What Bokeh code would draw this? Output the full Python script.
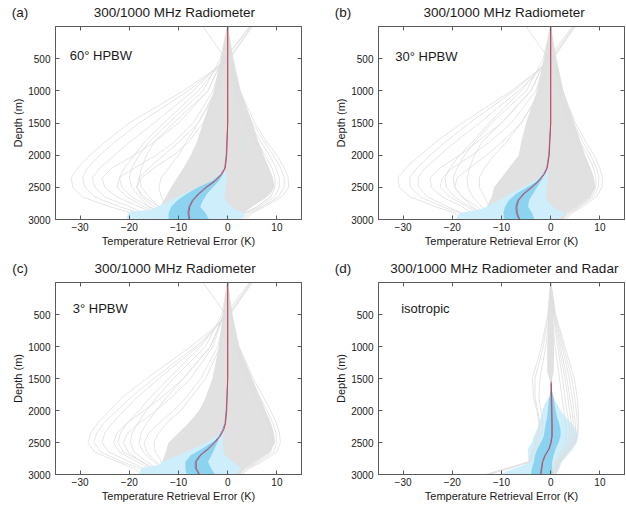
from bokeh.plotting import figure
from bokeh.layouts import row, column
from bokeh.models import Range1d, FixedTicker, LinearAxis, Label, CustomJSTickFormatter
from bokeh.embed import file_html
from bokeh.resources import INLINE

FONT = "Liberation Sans"
X_TICKS = [-30, -20, -10, 0, 10]
Y_TICKS = [500, 1000, 1500, 2000, 2500, 3000]
X_LABEL = "Temperature Retrieval Error (K)"
Y_LABEL = "Depth (m)"

# shared depth grid for ensemble members (m)
D = [0, 500, 1000, 1500, 1800, 2000, 2200, 2350, 2500, 2650, 2800, 2900, 3000]
# depth grid for mean / median profiles
DM = [0, 500, 1000, 1500, 2000, 2200, 2300, 2400, 2500, 2600, 2700, 2800, 2900, 3000]

# ---------------- panel (a) 60 deg HPBW ----------------
FAN_L_A = [0, -1.4, -2.8, -5.0, -6.3, -7.5, -9.0, -10.3, -11.5, -12.6, -13.8, -13.5, -12.5]
FAN_R_A = [0, 1.2, 2.6, 5.0, 6.3, 7.3, 8.4, 9.2, 9.5, 8.0, 5.0, 3.3, 2.0]
MEMB_A = [
    [5.0, 0.5, -9, -20, -25, -28, -30.5, -31.8, -31.5, -29.5, -24, -19.5, -17],
    [4.8, 0.2, -8, -18, -23, -26, -28.5, -29.5, -29, -27, -22, -18, -16],
    [4.6, -0.5, -7, -15, -20, -23, -26, -27.5, -27, -25, -20, -17, -15],
    [0, -1, -4, -10, -15, -19, -23.5, -25.5, -25, -22.5, -18, -15, -14],
    [0, -1, -3, -7, -11, -14.5, -19, -22, -22.5, -20.5, -17, -14, -13],
    [0, -1.5, -5, -12, -16, -18, -19.5, -20, -19.5, -18, -16, -13.5, -12],
    [0, -1, -4, -11, -15, -16.5, -17.5, -18, -17.5, -16, -14, -12, -11],
    [0, -0.5, -2, -5, -8, -11, -15, -17.5, -18.5, -17.5, -15, -13, -12],
    [0, -0.5, -2, -6, -10, -13, -16, -18, -18.5, -17, -14, -12, -11],
    [4.4, -0.5, -6, -13, -17, -19, -21, -22, -21.5, -19.5, -16, -13, -12],
    [0, -0.8, -2.5, -6, -8.5, -10, -12, -13.5, -14, -13.5, -12.5, -11.5, -11],
    [0, 0.8, 2.5, 5.5, 8, 10, 11.5, 12.3, 12.4, 11, 7.5, 5, 3.5],
    [0, 0.7, 2.2, 5, 7.5, 9.3, 10.8, 11.5, 11.5, 10.3, 7, 4.5, 3],
    [0, 0.6, 2, 4.5, 6.8, 8.5, 9.8, 10.5, 10.5, 9.5, 6.5, 4, 2.5],
    [-5, -0.5, 1.5, 4, 6, 7.6, 9, 9.6, 9.6, 8.8, 6, 3.5, 2],
    [0, 0.4, 1.5, 3.5, 5.3, 6.8, 8.2, 9, 9.2, 8.5, 6, 3.5, 2],
]
LB_D_A = [2250, 2350, 2450, 2550, 2650, 2750, 2850, 2880, 2950, 3000]
LB_L_A = [-0.5, -2.0, -4.5, -7.5, -10.2, -13.0, -15.5, -20.0, -20.5, -20.5]
LB_R_A = [-0.3, -0.2, -0.3, -0.5, -0.7, 0.0, 1.6, 3.0, 3.5, 2.5]
DB_D_A = [2300, 2400, 2500, 2600, 2700, 2800, 2900, 3000]
DB_L_A = [-1.5, -3.2, -6.0, -8.3, -10.2, -11.5, -12.0, -12.0]
DB_R_A = [-1.0, -1.8, -3.0, -4.2, -5.0, -5.6, -4.5, -3.8]
MEAN_A = [0, 0, 0, 0, -0.2, -0.5, -1.2, -2.5, -4.3, -5.8, -7.0, -7.7, -7.9, -7.7]
MED_A = [0, 0, 0, 0, -0.3, -0.6, -1.4, -2.7, -4.5, -6.0, -7.2, -7.9, -8.1, -7.9]

# ---------------- panel (b) 30 deg HPBW ----------------
FAN_L_B = [0, -1.4, -2.8, -5.0, -6.0, -6.5, -8.5, -10.0, -11.5, -12.0, -13.0, -13.0, -12.0]
FAN_R_B = [0, 1.2, 2.6, 4.8, 6.1, 7.0, 8.1, 8.8, 9.1, 8.0, 5.3, 3.3, 2.3]
MEMB_B = [
    [5.0, 0.5, -8, -18, -23.5, -26.5, -29.5, -31, -30.8, -28.5, -23.5, -19.5, -18],
    [4.8, 0.3, -7.5, -16.5, -21.5, -24.5, -27.2, -28.7, -28.5, -26.5, -22, -18.5, -17],
    [4.6, 0, -6.5, -14.5, -19.5, -22.5, -25.5, -27, -26.8, -25, -21, -18, -16.5],
    [0, -1, -4, -10, -15, -18.5, -22.5, -24.5, -24.3, -22, -18, -16, -15],
    [0, -1, -3, -8, -12.5, -16, -20, -22, -22.5, -20.5, -17, -15, -14],
    [0, -1.5, -5, -12, -15.5, -17.5, -19, -19.8, -19.5, -18, -16, -14, -13],
    [0, -1, -4, -10, -14, -15.5, -16.5, -17, -16.8, -15.8, -14, -12.5, -12],
    [0, -0.5, -2, -6, -10, -13, -16.5, -19, -19.5, -18, -15, -13.5, -12.5],
    [0, -0.5, -2, -6, -9, -11.5, -13.5, -14.5, -14.5, -13.5, -12.5, -11.5, -11],
    [4.4, -0.5, -6, -12.5, -16, -18.5, -20.5, -21.5, -21.2, -19.5, -16.5, -14, -13],
    [0, 0.8, 2.4, 5, 7.2, 8.8, 10, 10.5, 10.4, 9.3, 6.5, 4.3, 3],
    [0, 0.7, 2.1, 4.6, 6.6, 8.1, 9.3, 9.8, 9.7, 8.7, 6.0, 4.0, 2.7],
    [-5, -0.4, 1.5, 4.0, 6.0, 7.5, 8.7, 9.2, 9.2, 8.3, 5.7, 3.6, 2.4],
    [0, 0.5, 1.6, 3.5, 5.2, 6.6, 7.9, 8.6, 8.8, 8.0, 5.5, 3.4, 2.2],
]
LB_D_B = [2200, 2300, 2400, 2500, 2600, 2700, 2800, 2850, 2900, 3000]
LB_L_B = [-0.8, -1.5, -3.3, -5.8, -8.3, -10.5, -13.0, -14.6, -18.5, -19.3]
LB_R_B = [-0.5, -0.5, -0.6, -0.8, -1.0, -0.8, 0.5, 1.5, 3.0, 1.6]
DB_D_B = [2350, 2400, 2500, 2600, 2700, 2800, 2900, 3000]
DB_L_B = [-1.8, -2.6, -4.8, -7.0, -8.5, -9.3, -9.6, -9.5]
DB_R_B = [-1.5, -2.0, -2.8, -3.6, -4.4, -4.6, -3.8, -3.3]
MEAN_B = [0, 0, 0, 0, -0.3, -0.7, -1.3, -2.4, -3.8, -5.4, -6.5, -6.9, -6.8, -6.3]
MED_B = [0, 0, 0, 0, -0.4, -0.8, -1.5, -2.6, -4.0, -5.6, -6.7, -7.1, -7.0, -6.5]

# ---------------- panel (c) 3 deg HPBW ----------------
FAN_L_C = [0, -1.0, -1.8, -3.1, -4.5, -5.8, -8.0, -10.0, -12.0, -12.6, -13.3, -13.0, -12.5]
FAN_R_C = [0, 1.0, 2.3, 5.0, 6.6, 7.7, 8.8, 9.4, 9.7, 8.6, 5.5, 3.5, 2.3]
MEMB_C = [
    [5.0, 0.5, -7.5, -16.5, -21.5, -24, -26.5, -27.8, -28.4, -27, -22.5, -19, -17.5],
    [4.8, 0.3, -6.5, -15, -19.8, -22.5, -25.2, -26.6, -27.2, -25.8, -21.5, -18, -16.5],
    [4.6, 0, -6, -14, -18.5, -21, -23.5, -25, -25.5, -24.2, -20, -17, -16],
    [0, -0.8, -3.5, -9, -13.5, -17, -20.5, -22.5, -23.2, -22, -18.5, -16, -15],
    [0, -0.8, -3, -7.5, -11.5, -14.5, -18, -20.3, -21.2, -20.2, -17.5, -15.5, -14.5],
    [0, -1.2, -4.5, -11, -14.5, -16.5, -18.3, -19.4, -19.8, -19, -16.5, -14.5, -13.5],
    [0, -0.8, -3.5, -9, -12.5, -14.5, -16.5, -17.6, -18, -17.2, -15, -13.5, -12.5],
    [0, -0.5, -2, -5.5, -8.5, -11, -14, -16, -17, -16.5, -14.5, -13, -12],
    [4.4, -0.5, -5.5, -12, -15.8, -18, -20.5, -21.8, -22.3, -21.2, -17.5, -15, -14],
    [0, -0.5, -1.5, -4.5, -7.5, -9.5, -12.5, -14, -15, -14.7, -13.5, -12.5, -12],
    [0, 0.7, 2.3, 5.2, 7.3, 8.7, 9.9, 10.5, 10.7, 10.0, 7.0, 4.5, 3.0],
    [0, 0.6, 2.0, 4.6, 6.6, 8.0, 9.2, 9.8, 10.0, 9.3, 6.4, 4.1, 2.7],
    [-5, -0.4, 1.5, 4.2, 6.0, 7.3, 8.5, 9.1, 9.3, 8.7, 6.0, 3.8, 2.4],
    [0, 0.5, 1.6, 3.8, 5.5, 6.8, 8.0, 8.6, 8.9, 8.3, 5.6, 3.5, 2.2],
]
LB_D_C = [2300, 2400, 2500, 2600, 2700, 2800, 2850, 2900, 3000]
LB_L_C = [-1.0, -2.2, -4.3, -7.2, -10.0, -13.3, -14.0, -17.5, -18.0]
LB_R_C = [-0.8, -0.8, -1.0, -1.0, -0.5, 1.0, 2.0, 2.7, 1.8]
DB_D_C = [2450, 2500, 2600, 2700, 2800, 2900, 3000]
DB_L_C = [-2.2, -3.2, -5.3, -7.5, -8.6, -8.6, -8.4]
DB_R_C = [-1.8, -2.1, -2.7, -3.3, -4.0, -3.4, -2.6]
MEAN_C = [0, 0, 0, 0, -0.2, -0.45, -0.8, -1.5, -2.6, -3.9, -5.5, -6.4, -6.4, -5.7]
MED_C = [0, 0, 0, 0, -0.3, -0.55, -1.0, -1.7, -2.8, -4.1, -5.7, -6.6, -6.6, -5.9]

# ---------------- panel (d) radiometer and radar, isotropic ----------------
FAN_D_D = [0, 500, 1000, 1400, 1580]
FAN_L_D = [0, -0.5, -0.7, -0.7, 0.0]
FAN_R_D = [0, 0.5, 0.7, 0.6, 0.1]
MEMB_D = [
    [0, 1.0, 2.9, 4.8, 5.4, 5.6, 5.7, 5.6, 5.0, 3.5, 2.0, 1.5, 1.0],
    [0, 0.9, 2.6, 4.3, 4.9, 5.2, 5.4, 5.4, 4.8, 3.3, 1.8, 1.3, 0.9],
    [0, 0.8, 2.3, 3.8, 4.4, 4.7, 5.0, 5.1, 4.6, 3.1, 1.7, 1.2, 0.8],
    [0, 0.7, 2.0, 3.3, 3.9, 4.3, 4.6, 4.7, 4.3, 2.9, 1.5, 1.0, 0.7],
    [0, 0.6, 1.7, 2.9, 3.5, 3.8, 4.2, 4.3, 4.0, 2.7, 1.3, 0.9, 0.6],
    [0, 0.5, 1.4, 2.4, 2.9, 3.3, 3.7, 3.9, 3.6, 2.4, 1.1, 0.7, 0.5],
    [0, -0.5, -1.5, -3.2, -3.2, -2.6, -2.2, -2.4, -3.0, -3.5, -4.0, -8.5, -13.0],
    [0, -0.6, -1.9, -3.7, -3.5, -2.8, -2.4, -2.6, -3.2, -3.8, -4.3, -8.0, -12.5],
    [0, -0.3, -1.0, -2.2, -2.4, -2.0, -1.6, -1.8, -2.5, -3.3, -4.5, -8.8, -13.3],
    [0, 0.3, 0.9, 1.8, 2.3, 2.7, 3.0, 3.2, 3.0, 2.0, 1.0, 0.6, 0.4],
]
LB_D_D = [1800, 1900, 2000, 2100, 2200, 2300, 2400, 2500, 2600, 2700, 2800, 2850, 2900, 2950, 3000]
LB_L_D = [-0.5, -1.2, -1.7, -2.0, -2.3, -2.8, -3.4, -3.8, -4.6, -4.6, -4.5, -5.5, -7.2, -9.0, -10.0]
LB_R_D = [0.5, 1.3, 2.0, 3.0, 4.2, 5.2, 5.6, 5.3, 4.5, 3.4, 2.3, 2.0, 1.8, 1.5, 1.0]
DB_D_D = [1700, 1800, 2000, 2100, 2200, 2300, 2400, 2500, 2600, 2700, 2800, 2900, 3000]
DB_L_D = [-0.1, -0.3, -0.6, -0.7, -1.0, -1.2, -1.4, -2.0, -2.7, -3.2, -3.4, -3.8, -4.0]
DB_R_D = [0.3, 0.6, 1.0, 1.3, 1.7, 2.0, 2.0, 1.6, 1.0, 0.6, 0.3, 0.3, 0.4]
MEAN_D = [0, 0, 0, 0.1, 0.25, 0.3, 0.3, 0.3, 0.1, -0.3, -1.1, -1.6, -1.8, -2.0]
MED_D = [0, 0, 0, 0.0, 0.15, 0.2, 0.2, 0.2, 0.0, -0.4, -1.2, -1.7, -1.9, -2.1]

GRAY_FILL = "#e1e1e1"
GRAY_LINE = "#dedede"
LIGHT_BLUE = "#cdeefa"
DARK_BLUE = "#8bd3ef"
MEAN_RED = "#dc3f4c"
MED_BLUE = "#4f9ad6"
AXIS_COL = "#5a5a5a"
TEXT_COL = "#1a1a1a"

NBSP_PAD = "\u00a0" * 19
MINUS_FMT = "return (tick < 0 ? '\u2212' : '') + Math.abs(tick);"


def style_axis(ax, show_labels, standoff=4):
    ax.major_tick_in = 4
    ax.major_tick_out = 0
    ax.minor_tick_line_color = None
    ax.axis_line_color = AXIS_COL
    ax.major_tick_line_color = AXIS_COL
    if show_labels:
        ax.major_label_text_font = FONT
        ax.major_label_text_font_size = "10px"
        ax.major_label_text_color = TEXT_COL
        ax.major_label_standoff = standoff
        ax.axis_label_text_font = FONT
        ax.axis_label_text_font_size = "11px"
        ax.axis_label_text_font_style = "normal"
        ax.axis_label_text_color = TEXT_COL
    else:
        ax.formatter = CustomJSTickFormatter(code="return '';")
        ax.major_label_text_font_size = "1px"
        ax.major_label_standoff = 0


def panel(letter, title, title_pos, note, note_x, note_y, fan_d, fan_l, fan_r, members,
          lb_d, lb_l, lb_r, db_d, db_l, db_r, mean, med,
          width, height, b_right, b_top, b_bottom, gray_on_top=False):
    p = figure(width=width, height=height, output_backend="svg", toolbar_location=None,
               title=None, x_range=Range1d(-35, 15), y_range=Range1d(3000, 0),
               min_border_left=55, min_border_right=b_right,
               min_border_top=b_top, min_border_bottom=b_bottom,
               background_fill_color="white", border_fill_color="white")
    p.grid.visible = False
    p.outline_line_color = AXIS_COL

    p.xaxis.ticker = FixedTicker(ticks=X_TICKS)
    p.yaxis.ticker = FixedTicker(ticks=Y_TICKS)
    p.xaxis.formatter = CustomJSTickFormatter(code=MINUS_FMT)
    p.xaxis.axis_label = X_LABEL
    p.yaxis.axis_label = Y_LABEL
    for ax in p.xaxis:
        style_axis(ax, True, 3)
        ax.axis_label_standoff = 1
    for ax in p.yaxis:
        style_axis(ax, True, 5)
        ax.axis_label_standoff = 1
    top = LinearAxis(ticker=FixedTicker(ticks=X_TICKS))
    right = LinearAxis(ticker=FixedTicker(ticks=Y_TICKS))
    style_axis(top, False)
    style_axis(right, False)
    p.add_layout(top, "above")
    p.add_layout(right, "right")

    # panel letter and title, drawn as labels of an unticked top axis
    p.extra_x_ranges = {"head": Range1d(-0.001, 1)}
    head = LinearAxis(x_range_name="head", ticker=FixedTicker(ticks=[0, title_pos]),
                      formatter=CustomJSTickFormatter(args=dict(labels=[letter + NBSP_PAD, title]),
                                                      code="return labels[index];"),
                      axis_line_color=None, major_tick_line_color=None,
                      minor_tick_line_color=None, major_label_standoff=1,
                      major_label_text_font=FONT, major_label_text_font_size="13.5px",
                      major_label_text_color=TEXT_COL)
    p.add_layout(head, "above")

    def gray():
        p.harea(x1=fan_l, x2=fan_r, y=fan_d, fill_color=GRAY_FILL)
        p.multi_line(xs=members, ys=[D] * len(members), line_color=GRAY_LINE, line_width=0.8)

    if not gray_on_top:
        gray()
    p.harea(x1=lb_l, x2=lb_r, y=lb_d, fill_color=LIGHT_BLUE)
    p.harea(x1=db_l, x2=db_r, y=db_d, fill_color=DARK_BLUE)
    p.line(x=med, y=DM, line_color=MED_BLUE, line_width=1)
    p.line(x=mean, y=DM, line_color=MEAN_RED, line_width=1)
    if gray_on_top:
        gray()

    p.add_layout(Label(x=note_x, y=note_y, text=note, text_font=FONT, text_font_size="13px",
                       text_color=TEXT_COL, text_baseline="middle"))
    return p


pa = panel("(a)", "300/1000 MHz Radiometer", 0.483, "60\u00b0 HPBW", -32.1, 455,
           D, FAN_L_A, FAN_R_A, MEMB_A, LB_D_A, LB_L_A, LB_R_A, DB_D_A, DB_L_A, DB_R_A,
           MEAN_A, MED_A, 323, 256, 22, 26, 37)
pb = panel("(b)", "300/1000 MHz Radiometer", 0.510, "30\u00b0 HPBW", -31.6, 467,
           D, FAN_L_B, FAN_R_B, MEMB_B, LB_D_B, LB_L_B, LB_R_B, DB_D_B, DB_L_B, DB_R_B,
           MEAN_B, MED_B, 302, 256, 1, 26, 37)
pc = panel("(c)", "300/1000 MHz Radiometer", 0.486, "3\u00b0 HPBW", -31.5, 414,
           D, FAN_L_C, FAN_R_C, MEMB_C, LB_D_C, LB_L_C, LB_R_C, DB_D_C, DB_L_C, DB_R_C,
           MEAN_C, MED_C, 323, 248, 22, 26, 30)
pd = panel("(d)", "300/1000 MHz Radiometer and Radar", 0.511, "isotropic", -30.4, 414,
           FAN_D_D, FAN_L_D, FAN_R_D, MEMB_D, LB_D_D, LB_L_D, LB_R_D, DB_D_D, DB_L_D, DB_R_D,
           MEAN_D, MED_D, 302, 248, 1, 26, 30, gray_on_top=True)

layout = column(row(pa, pb), row(pc, pd))
open("out.html", "w").write(file_html(layout, INLINE))
